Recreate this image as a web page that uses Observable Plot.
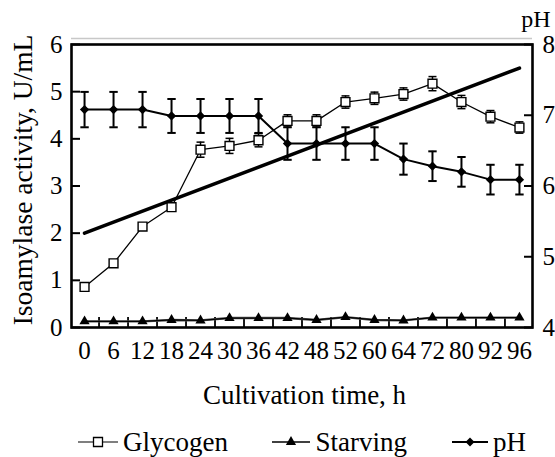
<!DOCTYPE html>
<html><head><meta charset="utf-8">
<script src="https://cdn.jsdelivr.net/npm/d3@7"></script>
<script src="https://cdn.jsdelivr.net/npm/@observablehq/plot@0.6"></script>
<style>
body{margin:0;background:#fff;}
#chart svg{display:block;}
</style>
</head><body><div id="chart"></div>
<script>
// ---- data ----
const times = ["0","6","12","18","24","30","36","42","48","52","60","64","72","80","92","96"];
const glycogen    = [0.86,1.36,2.14,2.55,3.77,3.85,3.97,4.38,4.38,4.78,4.86,4.95,5.17,4.78,4.47,4.24];
const glycogenErr = [0.05,0.05,0.05,0.05,0.16,0.16,0.14,0.13,0.13,0.13,0.13,0.13,0.15,0.14,0.13,0.12];
const starving    = [0.13,0.13,0.13,0.16,0.15,0.20,0.20,0.20,0.16,0.22,0.16,0.15,0.21,0.21,0.21,0.21];
const ph          = [7.08,7.08,7.08,6.99,6.99,6.99,6.99,6.60,6.60,6.60,6.60,6.38,6.28,6.20,6.09,6.09];
const phErr       = [0.25,0.25,0.25,0.24,0.24,0.24,0.24,0.23,0.23,0.23,0.23,0.22,0.21,0.21,0.21,0.21];
const trend       = [2.0, 5.5];            // linear trend line, start and end value
const yTicks  = [0,1,2,3,4,5,6];
const phTicks = [4,5,6,7,8];
const legendLabels = ["Glycogen","Starving","pH"];

const FONT = "'Liberation Serif','Times New Roman',Times,serif";
const n = times.length;
const phToY = d3.scaleLinear([4, 8], [0, 6]);

const rows = times.map((t, i) => ({
  i, t,
  g: glycogen[i], ge: glycogenErr[i],
  s: starving[i],
  p: phToY(ph[i]), pe: phErr[i] * 1.5
}));
const trendRows = [{i: 0, v: trend[0]}, {i: n - 1, v: trend[1]}];

const capSymbol = {
  draw(ctx, size) { const r = Math.sqrt(size / Math.PI); ctx.moveTo(-r, 0); ctx.lineTo(r, 0); }
};

const chart = Plot.plot({
  width: 555, height: 400,
  marginLeft: 71, marginRight: 23, marginTop: 44, marginBottom: 73,
  style: {fontFamily: FONT, fontSize: "24px", color: "black", background: "white", overflow: "visible"},
  x: {type: "linear", domain: [-0.45, n - 1 + 0.45]},
  y: {domain: [0, 6]},
  marks: [
    Plot.ruleY([6], {dy: -6, stroke: "#c8c8c8", strokeWidth: 1.5}),
    // tick marks between categories
    Plot.ruleX(d3.range(n - 1), {x: d => d + 0.5, y1: 0, y2: 0.21, stroke: "black", strokeWidth: 1.8}),
    // trend line
    Plot.line(trendRows, {x: "i", y: "v", stroke: "black", strokeWidth: 3.6}),
    // pH
    Plot.ruleX(rows, {x: "i", y1: d => d.p - d.pe, y2: d => d.p + d.pe, stroke: "black", strokeWidth: 2}),
    Plot.dot(rows, {x: "i", y: d => d.p + d.pe, symbol: capSymbol, r: 4.2, stroke: "black", strokeWidth: 2, fill: "none"}),
    Plot.dot(rows, {x: "i", y: d => d.p - d.pe, symbol: capSymbol, r: 4.2, stroke: "black", strokeWidth: 2, fill: "none"}),
    Plot.line(rows, {x: "i", y: "p", stroke: "black", strokeWidth: 2}),
    Plot.dot(rows, {x: "i", y: "p", symbol: "diamond2", r: 4.2, fill: "black", stroke: "none"}),
    // Glycogen
    Plot.ruleX(rows, {x: "i", y1: d => d.g - d.ge, y2: d => d.g + d.ge, stroke: "black", strokeWidth: 1.5}),
    Plot.dot(rows, {x: "i", y: d => d.g + d.ge, symbol: capSymbol, r: 4, stroke: "black", strokeWidth: 1.5, fill: "none"}),
    Plot.dot(rows, {x: "i", y: d => d.g - d.ge, symbol: capSymbol, r: 4, stroke: "black", strokeWidth: 1.5, fill: "none"}),
    Plot.line(rows, {x: "i", y: "g", stroke: "black", strokeWidth: 1.3}),
    Plot.dot(rows, {x: "i", y: "g", symbol: "square", r: 5, fill: "white", stroke: "black", strokeWidth: 1.4}),
    // Starving
    Plot.line(rows, {x: "i", y: "s", stroke: "#555", strokeWidth: 2.4}),
    Plot.line(rows, {x: "i", y: "s", stroke: "black", strokeWidth: 1.2}),
    Plot.dot(rows, {x: "i", y: "s", symbol: "triangle", r: 3.8, fill: "black", stroke: "none"}),
    // frame
    Plot.frame({stroke: "black", strokeWidth: 2.6}),
    // axes
    Plot.axisX(d3.range(n), {tickSize: 0, tickPadding: 14, tickFormat: i => times[i], fontSize: 25, label: null}),
    Plot.axisY(yTicks, {anchor: "left", tickSize: -9, tickPadding: 18, strokeWidth: 2, fontSize: 25, label: null}),
    Plot.axisY(phTicks.map(v => phToY(v)), {anchor: "right", tickSize: -9, tickPadding: 19, strokeWidth: 2, fontSize: 25, label: null,
      tickFormat: v => String(Math.round(phToY.invert(v)))}),
    // titles
    Plot.text(["Isoamylase activity, U/mL"], {frameAnchor: "left", textAnchor: "middle", lineAnchor: "middle", rotate: -90, dx: -48, dy: -6, fontSize: 27.5}),
    Plot.text(["Cultivation time, h"], {frameAnchor: "bottom", textAnchor: "middle", lineAnchor: "middle", dx: 2.5, dy: 68, fontSize: 27}),
    Plot.text(["pH"], {frameAnchor: "top-right", textAnchor: "middle", lineAnchor: "middle", dx: 3.5, dy: -25.5, fontSize: 24})
  ]
});
document.getElementById("chart").appendChild(chart);

// ---- legend ----
const leg = d3.select("#chart").append("svg")
  .attr("width", 555).attr("height", 57)
  .style("font-family", FONT).style("font-size", "27px");
const items = [
  {label: legendLabels[0], x1: 78, x2: 118, sx: 98, tx: 123, sym: d3.symbolSquare, size: 81, fill: "white", sw: 1.2},
  {label: legendLabels[1], x1: 272, x2: 310, sx: 291, tx: 315.5, sym: d3.symbolTriangle, size: 45, fill: "black", sw: 1.5},
  {label: legendLabels[2], x1: 452, x2: 488, sx: 470, tx: 493, sym: d3.symbolDiamond2, size: 52, fill: "black", sw: 1.8}
];
const ly = 42;
for (const it of items) {
  leg.append("line").attr("x1", it.x1).attr("x2", it.x2).attr("y1", ly).attr("y2", ly)
    .attr("stroke", "black").attr("stroke-width", it.sw);
  leg.append("path").attr("d", d3.symbol(it.sym, it.size)())
    .attr("transform", `translate(${it.sx},${ly})`)
    .attr("fill", it.fill).attr("stroke", it.fill === "white" ? "black" : "none").attr("stroke-width", 1.3);
  leg.append("text").attr("x", it.tx).attr("y", 51).attr("fill", "black").text(it.label);
}
</script>
</body></html>
